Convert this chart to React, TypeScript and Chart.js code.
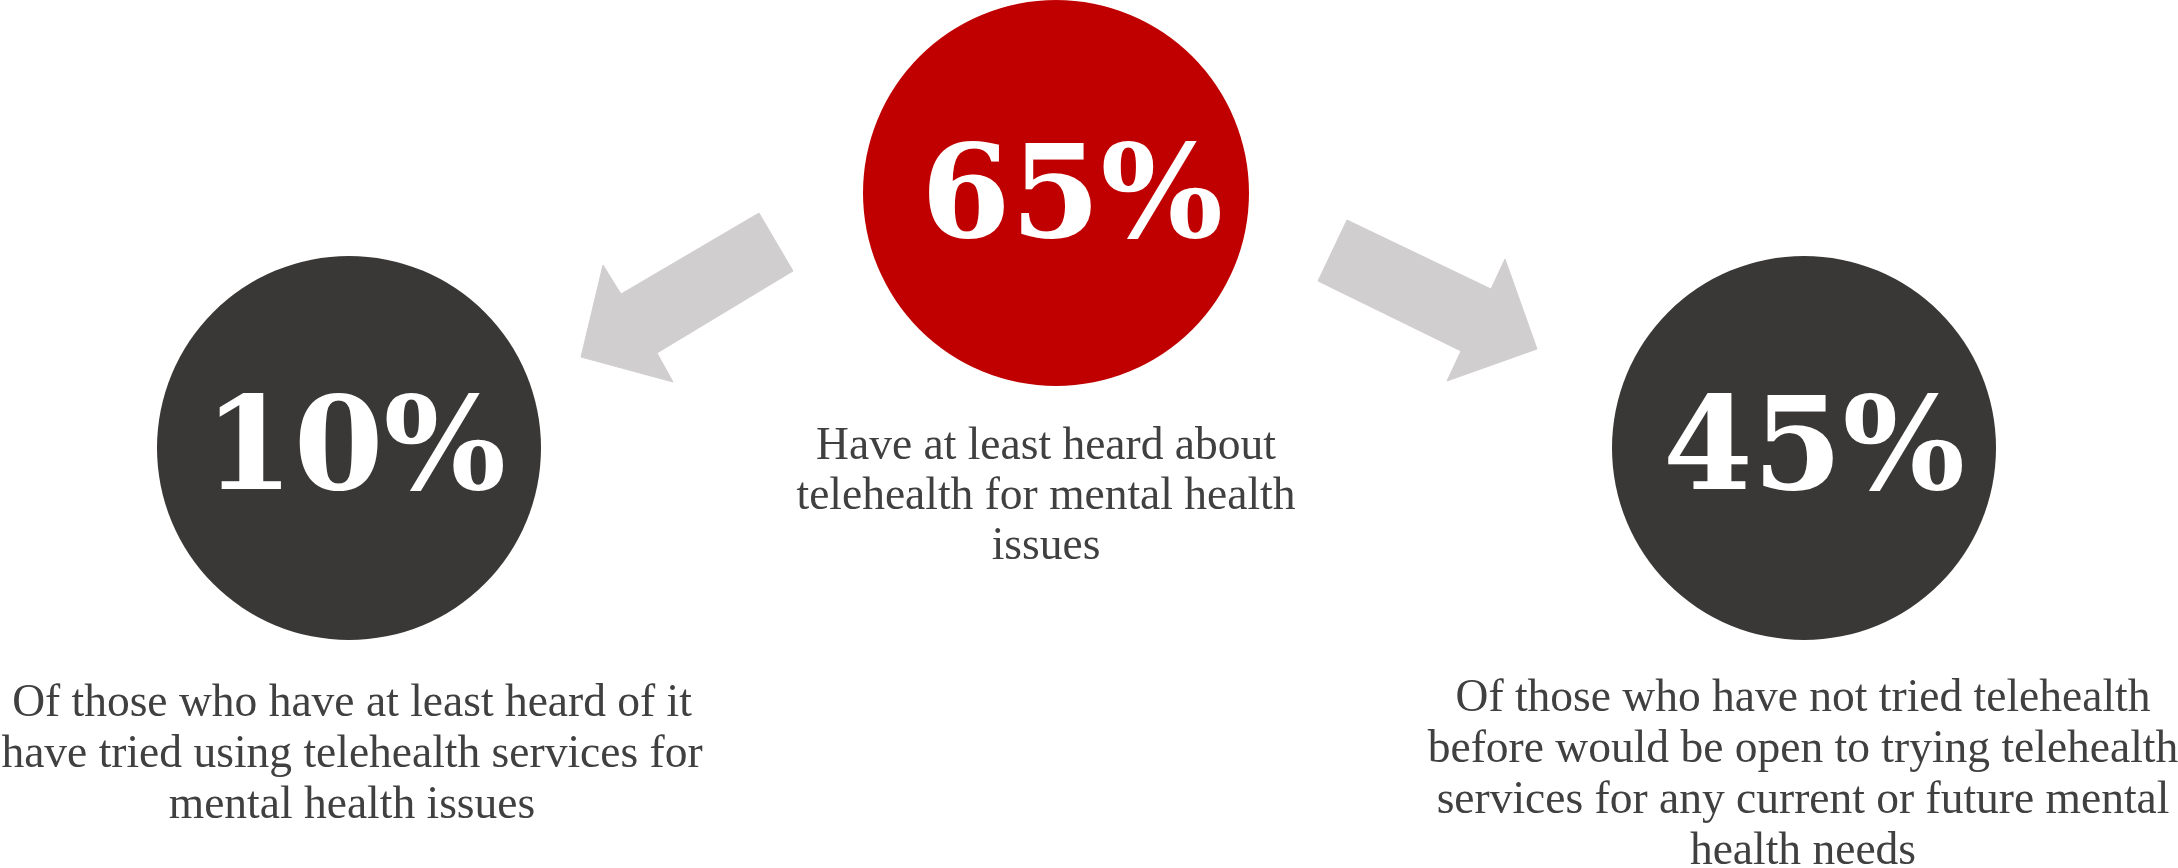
import React, { useEffect, useRef } from 'react';
import { Chart, registerables } from 'chart.js';

Chart.register(...registerables);

// ---- data ----
const statValues = [65, 10, 45];
const statLabels = statValues.map((v) => `${v}%`);
const descTop = ['Have at least heard about', 'telehealth for mental health', 'issues'];
const descLeft = [
  'Of those who have at least heard of it',
  'have tried using telehealth services for',
  'mental health issues',
];
const descRight = [
  'Of those who have not tried telehealth',
  'before would be open to trying telehealth',
  'services for any current or future mental',
  'health needs',
];
const descriptions = [descTop, descLeft, descRight];

// ---- layout (canvas units) ----
const W = 2178;
const H = 868;
const circleX = [1056, 349, 1804];
const circleY = [193, 448, 448];
const circleR = [193, 192, 192];
const circleColors = ['#C00000', '#3A3837', '#3A3837'];
const statX = [1072, 355, 1814];
const statBaseline = [237, 489, 489];
const descX = [1046, 352, 1803];
const descBaseline = [459, 716, 711];
const descLineHeight = [50, 51, 51];
const leftArrowX = [759, 621, 603, 581, 673, 657, 793, 759];
const leftArrowY = [213, 294, 265, 357, 382, 353, 271, 213];
const rightArrowX = [1347, 1491, 1505, 1537, 1447, 1461, 1318, 1347];
const rightArrowY = [220, 289, 259, 349, 381, 351, 281, 220];
const arrowColor = '#D0CECF';
const textColor = '#404040';

const textPlugin = {
  id: 'infoText',
  afterDatasetsDraw(chart: any) {
    const { ctx } = chart;
    const xs = chart.scales.x;
    const ys = chart.scales.y;
    ctx.save();
    ctx.textAlign = 'center';
    ctx.textBaseline = 'alphabetic';
    // big numbers
    ctx.fillStyle = '#FFFFFF';
    ctx.font = 'bold 129px "DejaVu Serif"';
    statLabels.forEach((label, i) => {
      ctx.fillText(label, xs.getPixelForValue(statX[i]), ys.getPixelForValue(statBaseline[i]));
    });
    // descriptions
    ctx.fillStyle = textColor;
    ctx.font = '45.5px "Liberation Serif"';
    descriptions.forEach((lines, i) => {
      lines.forEach((line, j) => {
        ctx.fillText(
          line,
          xs.getPixelForValue(descX[i]),
          ys.getPixelForValue(descBaseline[i] + j * descLineHeight[i])
        );
      });
    });
    ctx.restore();
  },
};

export default function App() {
  const canvasRef = useRef<HTMLCanvasElement | null>(null);

  useEffect(() => {
    document.body.style.margin = '0';
    const canvas = canvasRef.current;
    if (!canvas) return;
    const chart = new Chart(canvas, {
      type: 'bubble',
      data: {
        datasets: [
          {
            type: 'bubble',
            data: circleX.map((x, i) => ({ x, y: circleY[i], r: circleR[i] })),
            backgroundColor: circleColors,
            borderWidth: 0,
            hoverRadius: 0,
            clip: false,
          } as any,
          {
            type: 'line',
            data: leftArrowX.map((x, i) => ({ x, y: leftArrowY[i] })),
            backgroundColor: arrowColor,
            borderColor: arrowColor,
            borderWidth: 1,
            pointRadius: 0,
            tension: 0,
            fill: 'shape',
          } as any,
          {
            type: 'line',
            data: rightArrowX.map((x, i) => ({ x, y: rightArrowY[i] })),
            backgroundColor: arrowColor,
            borderColor: arrowColor,
            borderWidth: 1,
            pointRadius: 0,
            tension: 0,
            fill: 'shape',
          } as any,
        ],
      },
      options: {
        animation: false,
        responsive: true,
        maintainAspectRatio: false,
        events: [],
        layout: { padding: 0, autoPadding: false },
        plugins: {
          legend: { display: false },
          tooltip: { enabled: false },
        },
        scales: {
          x: { type: 'linear', min: 0, max: W, display: false },
          y: { type: 'linear', min: 0, max: H, reverse: true, display: false },
        },
      },
      plugins: [textPlugin],
    });
    return () => chart.destroy();
  }, []);

  return (
    <div style={{ width: W, height: H, position: 'relative', background: '#FFFFFF' }}>
      <canvas ref={canvasRef} />
    </div>
  );
}
